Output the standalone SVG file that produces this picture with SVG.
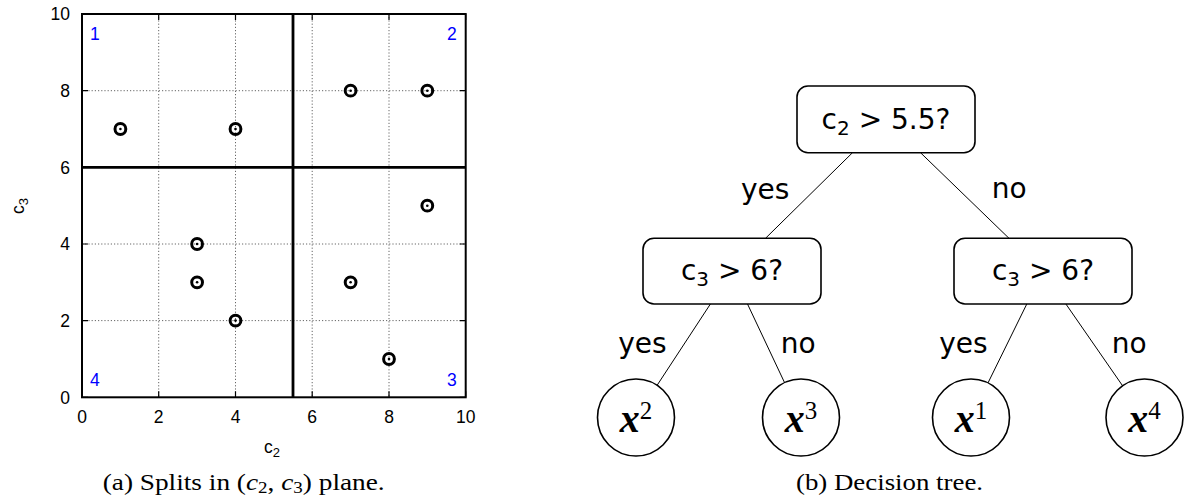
<svg xmlns="http://www.w3.org/2000/svg" width="1187" height="502" viewBox="0 0 1187 502">
<style>
.tick{font-family:"Liberation Sans",Arial,sans-serif;font-size:17.5px;fill:#000}
.reg{font-family:"Liberation Sans",Arial,sans-serif;font-size:17.5px;fill:#0000ff}
.grid{stroke:#666;stroke-width:1;stroke-dasharray:1.2 2;fill:none}
.frame{stroke:#000;stroke-width:2;fill:none}
.split{stroke:#000;stroke-width:2.8}
.tk{stroke:#000;stroke-width:1.2}
.box{fill:#fff;stroke:#000;stroke-width:1.6}
.leaf{fill:#fff;stroke:#000;stroke-width:1.6}
.edge{stroke:#000;stroke-width:1;fill:none}
.lbl{font-family:"DejaVu Sans",sans-serif;font-size:28px;fill:#000}
.math{font-family:"Liberation Serif",serif;font-size:40px;font-weight:bold;font-style:italic;fill:#000}
.cap{font-family:"Liberation Serif",serif;font-size:23px;fill:#000}
</style>
<defs>
<g id="pt"><circle r="5.4" fill="none" stroke="#000" stroke-width="3"/><circle r="1.3" fill="#000"/></g>
</defs>

<g id="plot">
<g id="grid">
<line class="grid" x1="158.7" y1="14" x2="158.7" y2="397.3"/>
<line class="grid" x1="235.5" y1="14" x2="235.5" y2="397.3"/>
<line class="grid" x1="312.2" y1="14" x2="312.2" y2="397.3"/>
<line class="grid" x1="389" y1="14" x2="389" y2="397.3"/>
<line class="grid" x1="82" y1="90.7" x2="465.7" y2="90.7"/>
<line class="grid" x1="82" y1="244" x2="465.7" y2="244"/>
<line class="grid" x1="82" y1="320.6" x2="465.7" y2="320.6"/>
</g>
<g id="ticks">
<path class="tk" d="M82,397.3v-6M158.7,397.3v-6M235.5,397.3v-6M312.2,397.3v-6M389,397.3v-6M465.7,397.3v-6M82,14v6M158.7,14v6M235.5,14v6M312.2,14v6M389,14v6M465.7,14v6M82,397.3h6M82,320.6h6M82,244h6M82,167.3h6M82,90.7h6M82,14h6M465.7,397.3h-6M465.7,320.6h-6M465.7,244h-6M465.7,167.3h-6M465.7,90.7h-6M465.7,14h-6"/>
</g>
<line class="split" x1="293" y1="14" x2="293" y2="397.3"/>
<line class="split" x1="82" y1="167.3" x2="465.7" y2="167.3"/>
<rect class="frame" x="82" y="14" width="383.7" height="383.3"/>
<g id="points">
<use href="#pt" x="120.4" y="129"/>
<use href="#pt" x="235.5" y="129"/>
<use href="#pt" x="350.6" y="90.7"/>
<use href="#pt" x="427.3" y="90.7"/>
<use href="#pt" x="427.3" y="205.7"/>
<use href="#pt" x="197.1" y="244"/>
<use href="#pt" x="197.1" y="282.3"/>
<use href="#pt" x="235.5" y="320.6"/>
<use href="#pt" x="350.6" y="282.3"/>
<use href="#pt" x="389" y="359"/>
</g>
<g id="xticklabels" text-anchor="middle">
<text class="tick" x="82" y="423">0</text>
<text class="tick" x="158.7" y="423">2</text>
<text class="tick" x="235.5" y="423">4</text>
<text class="tick" x="312.2" y="423">6</text>
<text class="tick" x="389" y="423">8</text>
<text class="tick" x="465.7" y="423">10</text>
</g>
<g id="yticklabels" text-anchor="end">
<text class="tick" x="70" y="403.5">0</text>
<text class="tick" x="70" y="326.8">2</text>
<text class="tick" x="70" y="250.2">4</text>
<text class="tick" x="70" y="173.5">6</text>
<text class="tick" x="70" y="96.9">8</text>
<text class="tick" x="70" y="20.2">10</text>
</g>
<text class="tick" x="272" y="453" text-anchor="middle">c<tspan font-size="13" dy="4">2</tspan></text>
<text class="tick" transform="translate(24,206) rotate(-90)" text-anchor="middle">c<tspan font-size="13" dy="4">3</tspan></text>
<text class="reg" x="90" y="40">1</text>
<text class="reg" x="447" y="40">2</text>
<text class="reg" x="447" y="386">3</text>
<text class="reg" x="90" y="386">4</text>
<text class="cap" x="102.7" y="490" textLength="282" lengthAdjust="spacingAndGlyphs">(a) Splits in (<tspan font-style="italic">c</tspan><tspan font-size="16" dy="3">2</tspan><tspan dy="-3">, </tspan><tspan font-style="italic">c</tspan><tspan font-size="16" dy="3">3</tspan><tspan dy="-3">) plane.</tspan></text>
</g>

<g id="connectors">
<line class="edge" x1="852.5" y1="152.7" x2="765.5" y2="238.3"/>
<line class="edge" x1="920.5" y1="152.7" x2="1009" y2="238.3"/>
<line class="edge" x1="710.4" y1="304" x2="657.1" y2="385.3"/>
<line class="edge" x1="747.5" y1="304" x2="784.6" y2="382.7"/>
<line class="edge" x1="1026.8" y1="304" x2="988" y2="382.9"/>
<line class="edge" x1="1065.9" y1="304" x2="1122.6" y2="385.8"/>
</g>

<g id="edge-labels">
<text class="lbl" x="741" y="199">yes</text>
<text class="lbl" x="991.7" y="198">no</text>
<text class="lbl" x="618.3" y="353">yes</text>
<text class="lbl" x="780.7" y="353">no</text>
<text class="lbl" x="939.3" y="353">yes</text>
<text class="lbl" x="1111.7" y="353">no</text>
</g>

<g id="root">
<rect class="box" x="797" y="86" width="178" height="66.7" rx="11"/>
<text class="lbl" x="886" y="128.5" text-anchor="middle">c<tspan font-size="20" dy="6">2</tspan><tspan dy="-6"> &gt; 5.5?</tspan></text>
</g>
<g id="left-split">
<rect class="box" x="643" y="238.3" width="178" height="65.7" rx="11"/>
<text class="lbl" x="732" y="280" text-anchor="middle">c<tspan font-size="20" dy="6">3</tspan><tspan dy="-6"> &gt; 6?</tspan></text>
</g>
<g id="right-split">
<rect class="box" x="954" y="238.3" width="178" height="65.7" rx="11"/>
<text class="lbl" x="1043" y="280" text-anchor="middle">c<tspan font-size="20" dy="6">3</tspan><tspan dy="-6"> &gt; 6?</tspan></text>
</g>
<g id="leaf-x2">
<circle class="leaf" cx="636" cy="417.5" r="38.5"/>
<text class="math" x="636" y="432" text-anchor="middle">x<tspan font-size="25" font-weight="normal" font-style="normal" dy="-13">2</tspan></text>
</g>
<g id="leaf-x3">
<circle class="leaf" cx="801" cy="417.5" r="38.5"/>
<text class="math" x="801" y="432" text-anchor="middle">x<tspan font-size="25" font-weight="normal" font-style="normal" dy="-13">3</tspan></text>
</g>
<g id="leaf-x1">
<circle class="leaf" cx="971" cy="417.5" r="38.5"/>
<text class="math" x="971" y="432" text-anchor="middle">x<tspan font-size="25" font-weight="normal" font-style="normal" dy="-13">1</tspan></text>
</g>
<g id="leaf-x4">
<circle class="leaf" cx="1144.5" cy="417.5" r="38.5"/>
<text class="math" x="1144.5" y="432" text-anchor="middle">x<tspan font-size="25" font-weight="normal" font-style="normal" dy="-13">4</tspan></text>
</g>
<text class="cap" x="796" y="490" textLength="187" lengthAdjust="spacingAndGlyphs">(b) Decision tree.</text>
</svg>
